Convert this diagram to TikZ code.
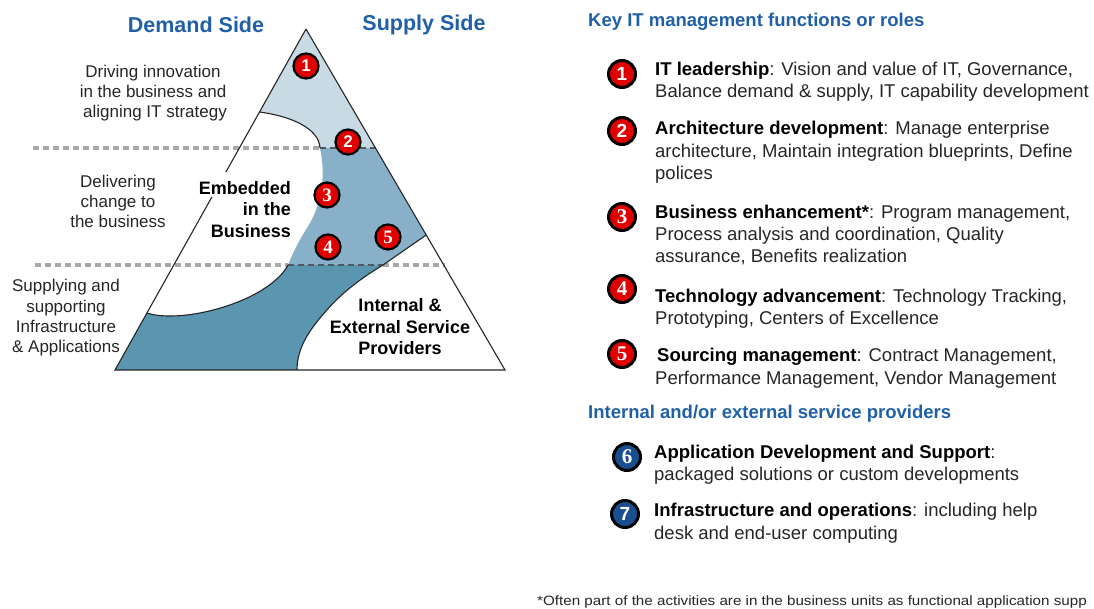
\documentclass[tikz,border=0pt]{standalone}
\usepackage{fontspec}
\setmainfont{Liberation Sans}
\newfontfamily\serifnum{Liberation Serif}
\newfontfamily\footfont[FakeStretch=1.125]{Liberation Sans}
\definecolor{hblue}{HTML}{2060A8}
\definecolor{reglight}{HTML}{C8DAE4}
\definecolor{regmid}{HTML}{88B0C8}
\definecolor{regdark}{HTML}{5A96B0}
\definecolor{dotgray}{HTML}{A8A8A8}
\definecolor{bnddash}{HTML}{505860}
\definecolor{badgered}{HTML}{E00000}
\definecolor{badgeblue}{HTML}{1A4F8F}
\definecolor{txt}{HTML}{262626}
\begin{document}
\begin{tikzpicture}[x=1pt,y=-1pt,
  leg/.style={anchor=base west, inner sep=0, font=\fontsize{18.5}{22}\selectfont, text=txt},
  head/.style={anchor=base west, inner sep=0, font=\fontsize{18.5}{22}\selectfont\bfseries, text=hblue},
  side/.style={inner sep=0, font=\fontsize{21.5}{26}\selectfont\bfseries, text=hblue},
  lbl/.style={anchor=base, inner sep=0, font=\fontsize{17}{20}\selectfont, text=txt},
  zonec/.style={anchor=base, inner sep=0, font=\fontsize{18}{22}\selectfont\bfseries, text=black},
  zoner/.style={anchor=base east, inner sep=0, font=\fontsize{18}{22}\selectfont\bfseries, text=black},
  foot/.style={anchor=base west, inner sep=0, font=\fontsize{13.5}{15}\footfont, text=txt},
  rbadge/.style={circle, minimum size=25, inner sep=0, fill=badgered, draw=black, line width=2.2, text=white, font=\fontsize{17}{17}\selectfont\bfseries},
  lbadge/.style={rbadge, minimum size=27, line width=3, font=\fontsize{19}{19}\selectfont\bfseries},
  bbadge/.style={lbadge, fill=badgeblue},
  outl/.style={draw=black!85, line width=1.1},
  dotline/.style={draw=dotgray, line width=4, dash pattern=on 6 off 4},
  bdash/.style={draw=bnddash, line width=1.5, dash pattern=on 6 off 4}
]
\useasboundingbox (0,0) rectangle (1094,608);
\fill[white] (0,0) rectangle (1094,608);

% coloured regions
\fill[reglight] (306,29) -- (259.5,112) .. controls (290,116) and (319,128) .. (320,148) -- (375.4,148) -- cycle;
\fill[regmid] (320,148) -- (375.4,148) -- (426.2,235) -- (383,265) -- (288,265) .. controls (292,255) and (298,242) .. (307,228) .. controls (322,205) and (326,175) .. (320,148) -- cycle;
\fill[regdark] (288,265) -- (383,265) .. controls (350,285) and (335,300) .. (320,318) .. controls (305,336) and (297,352) .. (297,370) -- (115,370) -- (146.9,313) .. controls (175,322) and (230,310) .. (262,290) .. controls (275,282) and (284,273) .. (288,265) -- cycle;

% dotted level lines
\draw[dotline] (33,148) -- (320,148);
\draw[dotline] (35,265) -- (288,265);
\draw[dotline] (383,265) -- (445,265);
\draw[bdash] (320,148) -- (375.4,148);
\draw[bdash] (288,265) -- (383,265);

% outlines
\draw[outl] (306,29) -- (225.9,172);
\draw[outl] (211.9,197) -- (115,370) -- (505,370) -- (306,29);
\draw[outl] (259.5,112) .. controls (290,116) and (319,128) .. (320,148);
\draw[outl] (288,265) .. controls (284,273) and (275,282) .. (262,290) .. controls (230,310) and (175,322) .. (146.9,313);
\draw[outl] (426.2,235) -- (383,265) .. controls (350,285) and (335,300) .. (320,318) .. controls (305,336) and (297,352) .. (297,370);

% side headings
\node[side] (dem) at (196,25) {Demand Side};
\node[side] (sup) at (424,25) {Supply Side};

% level labels
\node[lbl] (la1) at (153,77) {Driving innovation};
\node[lbl] (la2) at (153,97) {in the business and};
\node[lbl] (la3) at (155,117) {aligning IT strategy};
\node[lbl] (lb1) at (118,187) {Delivering};
\node[lbl] (lb2) at (118,207) {change to};
\node[lbl] (lb3) at (118,227) {the business};
\node[lbl] (lc1) at (66,291) {Supplying and};
\node[lbl] (lc2) at (66,312) {supporting};
\node[lbl] (lc3) at (66,332) {Infrastructure};
\node[lbl] (lc4) at (66,352) {\& Applications};

% zone labels
\node[zoner] (ea) at (291,194) {Embedded};
\node[zoner] (eb) at (291,215.5) {in the};
\node[zoner] (ec) at (291,237.5) {Business};
\node[zonec] (ia) at (400,311.5) {Internal \&};
\node[zonec] (ib) at (400,333.5) {External Service};
\node[zonec] (ic) at (400,354.5) {Providers};

% badges in triangle
\node[rbadge] (b1) at (306,66) {1};
\node[rbadge] (b2) at (348,142) {2};
\node[rbadge, font=\fontsize{19}{19}\selectfont\serifnum\bfseries] (b3) at (327,195) {3};
\node[rbadge, font=\fontsize{19}{19}\selectfont\serifnum\bfseries] (b4) at (328,247) {4};
\node[rbadge, font=\fontsize{19}{19}\selectfont\serifnum\bfseries] (b5) at (388,237) {5};

% legend
\node[head] (h1) at (588,26.5) {Key IT management functions or roles};
\node[lbadge] (l1) at (622,74) {1};
\node[leg] (t1a) at (655,75.5) {\textbf{\color{black}IT leadership}: Vision and value of IT, Governance,};
\node[leg] (t1b) at (655,97.5) {Balance demand \& supply, IT capability development};
\node[lbadge] (l2) at (622,131) {2};
\node[leg] (t2a) at (655,134.5) {\textbf{\color{black}Architecture development}: Manage enterprise};
\node[leg] (t2b) at (655,157) {architecture, Maintain integration blueprints, Define};
\node[leg] (t2c) at (655,179.5) {polices};
\node[lbadge, font=\fontsize{21}{21}\selectfont\serifnum\bfseries] (l3) at (622,217) {3};
\node[leg] (t3a) at (655,218.5) {\textbf{\color{black}Business enhancement*}: Program management,};
\node[leg] (t3b) at (655,240.5) {Process analysis and coordination, Quality};
\node[leg] (t3c) at (655,262.5) {assurance, Benefits realization};
\node[lbadge, font=\fontsize{21}{21}\selectfont\serifnum\bfseries] (l4) at (622,289) {4};
\node[leg] (t4a) at (655,302.5) {\textbf{\color{black}Technology advancement}: Technology Tracking,};
\node[leg] (t4b) at (655,324.5) {Prototyping, Centers of Excellence};
\node[lbadge, font=\fontsize{21}{21}\selectfont\serifnum\bfseries] (l5) at (622,354) {5};
\node[leg] (t5a) at (657,361.5) {\textbf{\color{black}Sourcing management}: Contract Management,};
\node[leg] (t5b) at (655,384.5) {Performance Management, Vendor Management};
\node[head] (h2) at (588,418.5) {Internal and/or external service providers};
\node[bbadge, font=\fontsize{21}{21}\selectfont\serifnum\bfseries] (l6) at (627,457) {6};
\node[leg] (t6a) at (654,458.5) {\textbf{\color{black}Application Development and Support}:};
\node[leg] (t6b) at (654,480.5) {packaged solutions or custom developments};
\node[bbadge] (l7) at (625,514) {7};
\node[leg] (t7a) at (654,516.5) {\textbf{\color{black}Infrastructure and operations}: including help};
\node[leg] (t7b) at (654,539.5) {desk and end-user computing};

\node[foot] (fn) at (537,605) {*Often part of the activities are in the business units as functional application supp};
\end{tikzpicture}
\end{document}
